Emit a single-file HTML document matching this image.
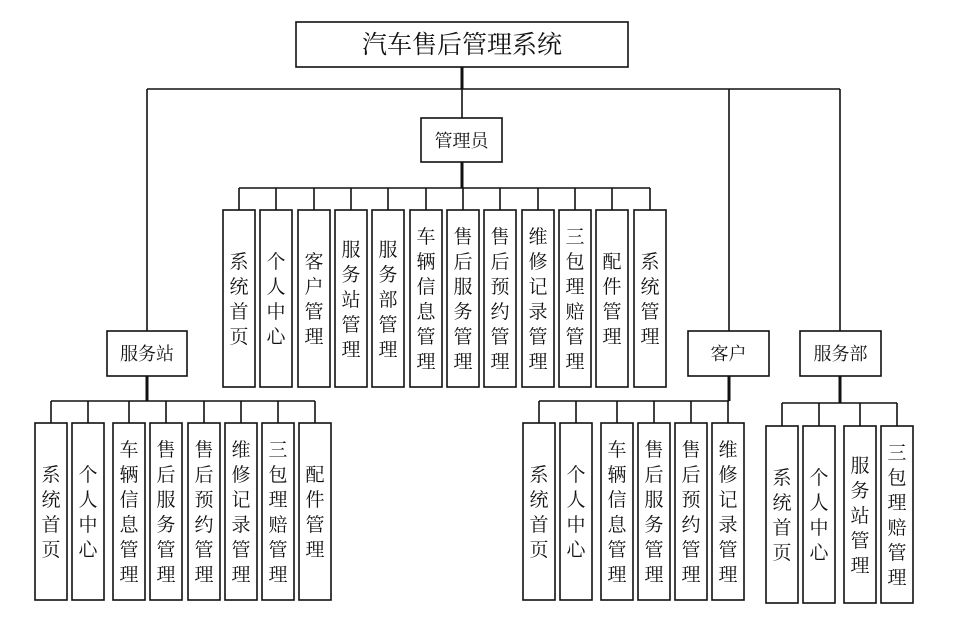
<!DOCTYPE html>
<html><head><meta charset="utf-8"><style>
html,body{margin:0;padding:0;background:#fff;}
svg{display:block;}
text{font-family:"Liberation Serif","Noto Serif CJK SC",serif;fill:#111;text-anchor:middle;}
.v{font-size:19px;}
rect{fill:#fff;stroke:#111;stroke-width:1.6;}
line{stroke:#111;stroke-width:1.6;}
.t{stroke-width:3;}
</style></head><body>
<svg width="980" height="623" viewBox="0 0 980 623" xmlns="http://www.w3.org/2000/svg">
<!-- top -->
<line x1="462" y1="67" x2="462" y2="89" class="t"/>
<line x1="147" y1="89" x2="840" y2="89"/>
<line x1="147" y1="89" x2="147" y2="331"/>
<line x1="462" y1="89" x2="462" y2="118"/>
<line x1="729" y1="89" x2="729" y2="331"/>
<line x1="840" y1="89" x2="840" y2="331"/>
<rect x="296" y="22" width="332" height="45"/>
<text x="462" y="53" style="font-size:25px">汽车售后管理系统</text>
<rect x="421" y="118" width="81" height="44"/>
<text x="461.5" y="147" style="font-size:18px">管理员</text>
<!-- admin bus -->
<line x1="462" y1="162" x2="462" y2="188" class="t"/>
<line x1="239" y1="188" x2="650" y2="188"/>
<line x1="239" y1="188" x2="239" y2="210"/><line x1="276" y1="188" x2="276" y2="210"/><line x1="314" y1="188" x2="314" y2="210"/><line x1="351" y1="188" x2="351" y2="210"/><line x1="388" y1="188" x2="388" y2="210"/><line x1="426" y1="188" x2="426" y2="210"/><line x1="463" y1="188" x2="463" y2="210"/><line x1="500" y1="188" x2="500" y2="210"/><line x1="538" y1="188" x2="538" y2="210"/><line x1="575" y1="188" x2="575" y2="210"/><line x1="612" y1="188" x2="612" y2="210"/><line x1="650" y1="188" x2="650" y2="210"/>
<rect x="223" y="210" width="32" height="177"/><rect x="260" y="210" width="32" height="177"/><rect x="298" y="210" width="32" height="177"/><rect x="335" y="210" width="32" height="177"/><rect x="372" y="210" width="32" height="177"/><rect x="410" y="210" width="32" height="177"/><rect x="447" y="210" width="32" height="177"/><rect x="484" y="210" width="32" height="177"/><rect x="522" y="210" width="32" height="177"/><rect x="559" y="210" width="32" height="177"/><rect x="596" y="210" width="32" height="177"/><rect x="634" y="210" width="32" height="177"/>
<g class="v">
<text x="239" y="268">系</text><text x="239" y="293">统</text><text x="239" y="318">首</text><text x="239" y="343">页</text>
<text x="276" y="268">个</text><text x="276" y="293">人</text><text x="276" y="318">中</text><text x="276" y="343">心</text>
<text x="314" y="268">客</text><text x="314" y="293">户</text><text x="314" y="318">管</text><text x="314" y="343">理</text>
<text x="351" y="256">服</text><text x="351" y="281">务</text><text x="351" y="306">站</text><text x="351" y="331">管</text><text x="351" y="356">理</text>
<text x="388" y="256">服</text><text x="388" y="281">务</text><text x="388" y="306">部</text><text x="388" y="331">管</text><text x="388" y="356">理</text>
<text x="426" y="243">车</text><text x="426" y="268">辆</text><text x="426" y="293">信</text><text x="426" y="318">息</text><text x="426" y="343">管</text><text x="426" y="368">理</text>
<text x="463" y="243">售</text><text x="463" y="268">后</text><text x="463" y="293">服</text><text x="463" y="318">务</text><text x="463" y="343">管</text><text x="463" y="368">理</text>
<text x="500" y="243">售</text><text x="500" y="268">后</text><text x="500" y="293">预</text><text x="500" y="318">约</text><text x="500" y="343">管</text><text x="500" y="368">理</text>
<text x="538" y="243">维</text><text x="538" y="268">修</text><text x="538" y="293">记</text><text x="538" y="318">录</text><text x="538" y="343">管</text><text x="538" y="368">理</text>
<text x="575" y="243">三</text><text x="575" y="268">包</text><text x="575" y="293">理</text><text x="575" y="318">赔</text><text x="575" y="343">管</text><text x="575" y="368">理</text>
<text x="612" y="268">配</text><text x="612" y="293">件</text><text x="612" y="318">管</text><text x="612" y="343">理</text>
<text x="650" y="268">系</text><text x="650" y="293">统</text><text x="650" y="318">管</text><text x="650" y="343">理</text>
</g>
<!-- service station -->
<rect x="107" y="331" width="80" height="45"/>
<text x="147" y="360" style="font-size:18px">服务站</text>
<line x1="147" y1="376" x2="147" y2="401" class="t"/>
<line x1="51" y1="401" x2="315" y2="401"/>
<line x1="51" y1="401" x2="51" y2="423"/><line x1="88" y1="401" x2="88" y2="423"/><line x1="129" y1="401" x2="129" y2="423"/><line x1="166" y1="401" x2="166" y2="423"/><line x1="204" y1="401" x2="204" y2="423"/><line x1="241" y1="401" x2="241" y2="423"/><line x1="278" y1="401" x2="278" y2="423"/><line x1="315" y1="401" x2="315" y2="423"/>
<rect x="35" y="423" width="32" height="177"/><rect x="72" y="423" width="32" height="177"/><rect x="113" y="423" width="32" height="177"/><rect x="150" y="423" width="32" height="177"/><rect x="188" y="423" width="32" height="177"/><rect x="225" y="423" width="32" height="177"/><rect x="262" y="423" width="32" height="177"/><rect x="299" y="423" width="32" height="177"/>
<g class="v">
<text x="51" y="481">系</text><text x="51" y="506">统</text><text x="51" y="531">首</text><text x="51" y="556">页</text>
<text x="88" y="481">个</text><text x="88" y="506">人</text><text x="88" y="531">中</text><text x="88" y="556">心</text>
<text x="129" y="456">车</text><text x="129" y="481">辆</text><text x="129" y="506">信</text><text x="129" y="531">息</text><text x="129" y="556">管</text><text x="129" y="581">理</text>
<text x="166" y="456">售</text><text x="166" y="481">后</text><text x="166" y="506">服</text><text x="166" y="531">务</text><text x="166" y="556">管</text><text x="166" y="581">理</text>
<text x="204" y="456">售</text><text x="204" y="481">后</text><text x="204" y="506">预</text><text x="204" y="531">约</text><text x="204" y="556">管</text><text x="204" y="581">理</text>
<text x="241" y="456">维</text><text x="241" y="481">修</text><text x="241" y="506">记</text><text x="241" y="531">录</text><text x="241" y="556">管</text><text x="241" y="581">理</text>
<text x="278" y="456">三</text><text x="278" y="481">包</text><text x="278" y="506">理</text><text x="278" y="531">赔</text><text x="278" y="556">管</text><text x="278" y="581">理</text>
<text x="315" y="481">配</text><text x="315" y="506">件</text><text x="315" y="531">管</text><text x="315" y="556">理</text>
</g>
<!-- customer -->
<rect x="688" y="331" width="81" height="45"/>
<text x="728.5" y="360" style="font-size:18px">客户</text>
<line x1="729" y1="376" x2="729" y2="401" class="t"/>
<line x1="539" y1="401" x2="729" y2="401"/>
<line x1="539" y1="401" x2="539" y2="423"/><line x1="576" y1="401" x2="576" y2="423"/><line x1="617" y1="401" x2="617" y2="423"/><line x1="654" y1="401" x2="654" y2="423"/><line x1="691" y1="401" x2="691" y2="423"/><line x1="728" y1="401" x2="728" y2="423"/>
<rect x="523" y="423" width="32" height="177"/><rect x="560" y="423" width="32" height="177"/><rect x="601" y="423" width="32" height="177"/><rect x="638" y="423" width="32" height="177"/><rect x="675" y="423" width="32" height="177"/><rect x="712" y="423" width="32" height="177"/>
<g class="v">
<text x="539" y="481">系</text><text x="539" y="506">统</text><text x="539" y="531">首</text><text x="539" y="556">页</text>
<text x="576" y="481">个</text><text x="576" y="506">人</text><text x="576" y="531">中</text><text x="576" y="556">心</text>
<text x="617" y="456">车</text><text x="617" y="481">辆</text><text x="617" y="506">信</text><text x="617" y="531">息</text><text x="617" y="556">管</text><text x="617" y="581">理</text>
<text x="654" y="456">售</text><text x="654" y="481">后</text><text x="654" y="506">服</text><text x="654" y="531">务</text><text x="654" y="556">管</text><text x="654" y="581">理</text>
<text x="691" y="456">售</text><text x="691" y="481">后</text><text x="691" y="506">预</text><text x="691" y="531">约</text><text x="691" y="556">管</text><text x="691" y="581">理</text>
<text x="728" y="456">维</text><text x="728" y="481">修</text><text x="728" y="506">记</text><text x="728" y="531">录</text><text x="728" y="556">管</text><text x="728" y="581">理</text>
</g>
<!-- service dept -->
<rect x="800" y="331" width="81" height="45"/>
<text x="840.5" y="360" style="font-size:18px">服务部</text>
<line x1="840" y1="376" x2="840" y2="403" class="t"/>
<line x1="782" y1="403" x2="897" y2="403"/>
<line x1="782" y1="403" x2="782" y2="426"/><line x1="819" y1="403" x2="819" y2="426"/><line x1="860" y1="403" x2="860" y2="426"/><line x1="897" y1="403" x2="897" y2="426"/>
<rect x="766" y="426" width="32" height="177"/><rect x="803" y="426" width="32" height="177"/><rect x="844" y="426" width="32" height="177"/><rect x="881" y="426" width="32" height="177"/>
<g class="v">
<text x="782" y="484">系</text><text x="782" y="509">统</text><text x="782" y="534">首</text><text x="782" y="559">页</text>
<text x="819" y="484">个</text><text x="819" y="509">人</text><text x="819" y="534">中</text><text x="819" y="559">心</text>
<text x="860" y="472">服</text><text x="860" y="497">务</text><text x="860" y="522">站</text><text x="860" y="547">管</text><text x="860" y="572">理</text>
<text x="897" y="459">三</text><text x="897" y="484">包</text><text x="897" y="509">理</text><text x="897" y="534">赔</text><text x="897" y="559">管</text><text x="897" y="584">理</text>
</g>
</svg>
</body></html>
